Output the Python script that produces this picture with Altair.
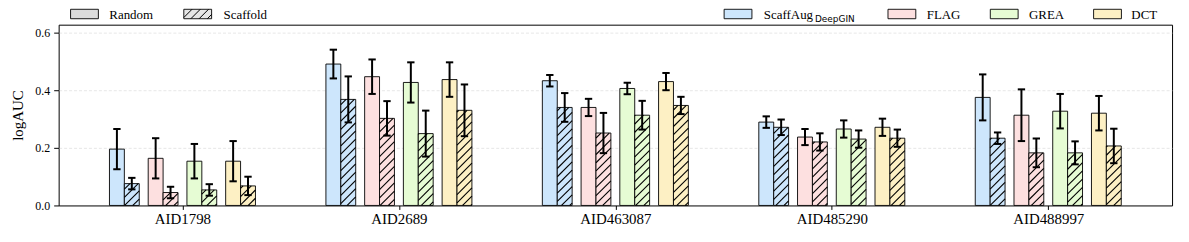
import math
import altair as alt
import pandas as pd

# ---------------- data ----------------
datasets = ["AID1798", "AID2689", "AID463087", "AID485290", "AID488997"]
methods = ["ScaffAug", "FLAG", "GREA", "DCT"]
splits = ["Random", "Scaffold"]

scaffaug_random = [0.196, 0.492, 0.434, 0.290, 0.376]
scaffaug_random_err = [0.070, 0.050, 0.020, 0.020, 0.080]
scaffaug_scaffold = [0.076, 0.369, 0.341, 0.272, 0.234]
scaffaug_scaffold_err = [0.020, 0.080, 0.050, 0.027, 0.020]

flag_random = [0.164, 0.448, 0.341, 0.238, 0.314]
flag_random_err = [0.070, 0.060, 0.030, 0.028, 0.090]
flag_scaffold = [0.045, 0.303, 0.252, 0.221, 0.183]
flag_scaffold_err = [0.020, 0.060, 0.070, 0.030, 0.050]

grea_random = [0.154, 0.428, 0.407, 0.266, 0.328]
grea_random_err = [0.060, 0.070, 0.020, 0.030, 0.060]
grea_scaffold = [0.054, 0.250, 0.314, 0.231, 0.183]
grea_scaffold_err = [0.020, 0.080, 0.050, 0.030, 0.040]

dct_random = [0.154, 0.438, 0.431, 0.272, 0.321]
dct_random_err = [0.070, 0.060, 0.030, 0.030, 0.060]
dct_scaffold = [0.068, 0.331, 0.348, 0.234, 0.207]
dct_scaffold_err = [0.032, 0.090, 0.030, 0.030, 0.060]

method_colors = ["#cde6fc", "#fde0e0", "#e6fcd4", "#fdf0c4"]

series = {
    ("ScaffAug", "Random"): (scaffaug_random, scaffaug_random_err),
    ("ScaffAug", "Scaffold"): (scaffaug_scaffold, scaffaug_scaffold_err),
    ("FLAG", "Random"): (flag_random, flag_random_err),
    ("FLAG", "Scaffold"): (flag_scaffold, flag_scaffold_err),
    ("GREA", "Random"): (grea_random, grea_random_err),
    ("GREA", "Scaffold"): (grea_scaffold, grea_scaffold_err),
    ("DCT", "Random"): (dct_random, dct_random_err),
    ("DCT", "Scaffold"): (dct_scaffold, dct_scaffold_err),
}

# ---------------- geometry ----------------
W, H = 1121, 182
X_DOM = [-0.572, 4.572]
Y_DOM = [0.0, 0.629]
PX = W / (X_DOM[1] - X_DOM[0])
PY = H / (Y_DOM[1] - Y_DOM[0])
BAR_W = 15.0 / PX
GROUP = 39.0 / PX
CAP = 3.7 / PX
HATCH = 8.3  # px spacing of hatch lines
FONT = "Liberation Serif"

rows = []
for i, ds in enumerate(datasets):
    for m, meth in enumerate(methods):
        for s, sp in enumerate(splits):
            vals, errs = series[(meth, sp)]
            xc = i + (m - 1.5) * GROUP + (s - 0.5) * BAR_W
            rows.append(dict(dataset=ds, method=meth, split=sp, mean=vals[i], err=errs[i],
                             xc=xc, x0=xc - BAR_W / 2, x1=xc + BAR_W / 2,
                             lo=vals[i] - errs[i], hi=vals[i] + errs[i],
                             c0=xc - CAP, c1=xc + CAP))
df = pd.DataFrame(rows)

# hatch lines for scaffold bars (45 degree "/" lines, clipped to each bar)
hrows = []
for _, r in df[df["split"] == "Scaffold"].iterrows():
    L = (r["x0"] - X_DOM[0]) * PX
    R = (r["x1"] - X_DOM[0]) * PX
    Hb = r["mean"] * PY
    k0 = math.ceil(-R / HATCH)
    k1 = math.floor((Hb - L) / HATCH)
    for k in range(k0, k1 + 1):
        c = k * HATCH
        xa = max(L, -c)
        xb = min(R, Hb - c)
        if xb - xa > 0.3:
            hrows.append(dict(hx0=xa / PX + X_DOM[0], hx1=xb / PX + X_DOM[0],
                              hy0=(xa + c) / PY, hy1=(xb + c) / PY))
hdf = pd.DataFrame(hrows)

label_expr = "[" + ",".join("'%s'" % d for d in datasets) + "][round(datum.value)]"

xs = alt.Scale(domain=X_DOM, nice=False, zero=False)
ys = alt.Scale(domain=Y_DOM, nice=False, zero=False)
xaxis = alt.Axis(values=[0, 1, 2, 3, 4], labelExpr=label_expr, title=None, grid=False,
                 tickSize=4, labelFontSize=15, labelPadding=2, labelFont=FONT)
yaxis = alt.Axis(values=[0, 0.2, 0.4, 0.6], format=".1f", title="logAUC", grid=True,
                 gridDash=[3, 2], gridColor="#d4d4d4", gridWidth=0.6,
                 gridOpacity={"expr": "datum.value == 0 ? 0 : 1"},
                 tickSize=5, labelFontSize=12, labelPadding=4, titleFontSize=15,
                 titleFontWeight="normal", titlePadding=9, labelFont=FONT, titleFont=FONT)

base = alt.Chart(df)

bars = base.mark_rect(stroke="black", strokeWidth=0.9).encode(
    x=alt.X("x0:Q", scale=xs, axis=xaxis),
    x2="x1:Q",
    y=alt.Y("mean:Q", scale=ys, axis=yaxis),
    y2=alt.datum(0),
    fill=alt.Fill("method:N", scale=alt.Scale(domain=methods, range=method_colors), legend=None),
)

hatch = alt.Chart(hdf).mark_rule(color="black", strokeWidth=1.1).encode(
    x=alt.X("hx0:Q", scale=xs, axis=xaxis),
    x2="hx1:Q",
    y=alt.Y("hy0:Q", scale=ys, axis=yaxis),
    y2="hy1:Q",
)

err_line = base.mark_rule(color="black", strokeWidth=2).encode(
    x=alt.X("xc:Q", scale=xs, axis=xaxis),
    y=alt.Y("lo:Q", scale=ys, axis=yaxis),
    y2="hi:Q",
)
cap_lo = base.mark_rule(color="black", strokeWidth=2).encode(
    x=alt.X("c0:Q", scale=xs, axis=xaxis),
    x2="c1:Q",
    y=alt.Y("lo:Q", scale=ys, axis=yaxis),
)
cap_hi = base.mark_rule(color="black", strokeWidth=2).encode(
    x=alt.X("c0:Q", scale=xs, axis=xaxis),
    x2="c1:Q",
    y=alt.Y("hi:Q", scale=ys, axis=yaxis),
)

# ---------------- legends (drawn above the plot area, pixel units) ----------------
one = pd.DataFrame({"k": [0]})
OX, OY = 59, 24  # plot-area origin on the page
BOX_TOP, BOX_BOT, TXT_Y = 8.5 - OY, 18.0 - OY, 18.5 - OY

legend_items = [
    # label, box left (page), text x (page), fill, hatched
    ("Random", 71, 110, "#dcdcdc", False),
    ("Scaffold", 185, 225, "#e6e6e6", True),
    ("ScaffAug", 729, 769, method_colors[0], False),
    ("FLAG", 894, 933, method_colors[1], False),
    ("GREA", 997, 1036, method_colors[2], False),
    ("DCT", 1101, 1139, method_colors[3], False),
]
legend_layers = []
for label, bx, tx, fill, hatched in legend_items:
    bl = bx - OX
    br = bl + 28
    legend_layers.append(
        alt.Chart(one).mark_rect(fill=fill, stroke="black", strokeWidth=0.9).encode(
            x=alt.value(bl), x2=alt.value(br), y=alt.value(BOX_TOP), y2=alt.value(BOX_BOT))
    )
    if hatched:
        hh = BOX_BOT - BOX_TOP
        k = 0
        while True:
            c = k * HATCH - hh
            if c > 28:
                break
            xa = max(0.0, c)
            xb = min(28.0, hh + c)
            if xb - xa > 0.3:
                legend_layers.append(
                    alt.Chart(one).mark_rule(color="black", strokeWidth=1.0).encode(
                        x=alt.value(bl + xa), x2=alt.value(bl + xb),
                        y=alt.value(BOX_BOT - (xa - c)), y2=alt.value(BOX_BOT - (xb - c)))
                )
            k += 1
    legend_layers.append(
        alt.Chart(one).mark_text(text=label, align="left", baseline="alphabetic",
                                 font=FONT, fontSize=13, color="black").encode(
            x=alt.value(tx - OX), y=alt.value(TXT_Y))
    )
legend_layers.append(
    alt.Chart(one).mark_text(text="DeepGIN", align="left", baseline="alphabetic",
                             font="DejaVu Sans", fontSize=9, color="black").encode(
        x=alt.value(769 - OX + 51.5), y=alt.value(TXT_Y + 3))
)

chart = alt.layer(bars, hatch, err_line, cap_lo, cap_hi, *legend_layers).properties(
    width=W, height=H,
    autosize=alt.AutoSizeParams(type="none"),
    padding={"left": 51, "top": 16, "right": 9, "bottom": 36},
).configure_view(
    stroke="black", strokeWidth=1
).configure_axis(
    domain=False, labelColor="black", tickColor="black", titleColor="black", tickWidth=1
)

chart.save("out.html", embed_options={"renderer": "svg", "actions": False})
